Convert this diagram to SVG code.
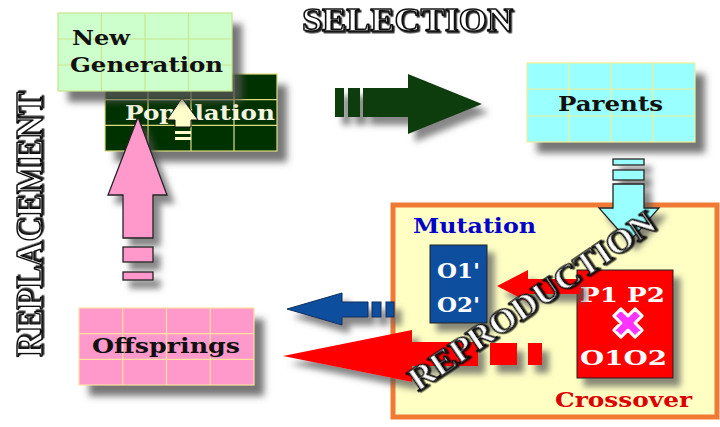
<svg xmlns="http://www.w3.org/2000/svg" width="720" height="427" viewBox="0 0 720 427">
<defs>
<filter id="sh" x="-20%" y="-20%" width="150%" height="170%"><feDropShadow dx="10" dy="11" stdDeviation="3.5" flood-color="#555" flood-opacity="0.8"/></filter>
<filter id="sha" x="-20%" y="-30%" width="150%" height="180%"><feDropShadow dx="7" dy="8" stdDeviation="3" flood-color="#555" flood-opacity="0.7"/></filter>
<filter id="tsh" x="-10%" y="-30%" width="120%" height="160%"><feDropShadow dx="1.6" dy="1.6" stdDeviation="0.3" flood-color="#000" flood-opacity="0.85"/></filter>
</defs>
<style>
.t{font-family:"DejaVu Serif","Liberation Serif",serif;font-weight:bold}
.grid{fill:none;stroke-width:1.2}
.deco{font-family:"Liberation Serif","DejaVu Serif",serif;font-weight:bold;fill:#fff;stroke:#111;stroke-width:1.5;stroke-linejoin:round;filter:url(#tsh)}
.ol{stroke:#222;stroke-width:1.3}
</style>
<rect width="720" height="427" fill="#fff"/>

<!-- Side labels -->
<text class="deco" x="302" y="31" font-size="34" textLength="211" lengthAdjust="spacingAndGlyphs">SELECTION</text>
<text class="deco" transform="translate(42,357) rotate(-90)" font-size="37" textLength="265" lengthAdjust="spacingAndGlyphs">REPLACEMENT</text>

<!-- Reproduction box -->
<g id="reproduction">
<rect x="393" y="205" width="324" height="212" fill="#ffffc4" stroke="#f07a34" stroke-width="5"/>
</g>

<!-- Population -->
<g id="population">
<rect x="105" y="74" width="172" height="77" fill="#003300" filter="url(#sh)"/>
<g class="grid" stroke="#dede80">
<rect x="105" y="74" width="172" height="77"/>
<path d="M148 74V151M191 74V151M234 74V151M105 99.7H277M105 125.3H277"/>
</g>
<text class="t" x="125" y="120" font-size="21" fill="#f5f5e0" textLength="150" lengthAdjust="spacingAndGlyphs">Population</text>
<polygon points="182,98 198,120 191,120 191,127 175,127 175,120 167,120" fill="#ffffcc" stroke="#111" stroke-width="1"/>
<rect x="175" y="131" width="16" height="3" fill="#ffffcc"/>
<rect x="175" y="137" width="16" height="3" fill="#ffffcc"/>
</g>

<!-- New Generation -->
<g id="newgen">
<rect x="58" y="13" width="174" height="78" fill="#ccffcc" filter="url(#sh)"/>
<g class="grid" stroke="#c8e68c">
<rect x="58" y="13" width="174" height="78"/>
<path d="M101.5 13V91M145 13V91M188.5 13V91M58 39H232M58 65H232"/>
</g>
<text class="t" x="72" y="45" font-size="21" fill="#111" textLength="58" lengthAdjust="spacingAndGlyphs">New</text>
<text class="t" x="70" y="72" font-size="21" fill="#111" textLength="153" lengthAdjust="spacingAndGlyphs">Generation</text>
</g>

<!-- Parents -->
<g id="parents">
<rect x="527" y="63" width="168" height="79" fill="#99ffff" filter="url(#sh)"/>
<g class="grid" stroke="#eeee99">
<rect x="527" y="63" width="168" height="79"/>
<path d="M569 63V142M611 63V142M653 63V142M527 89H695M527 116H695"/>
</g>
<text class="t" x="558" y="111" font-size="21" fill="#111" textLength="105" lengthAdjust="spacingAndGlyphs">Parents</text>
</g>

<!-- Offsprings -->
<g id="offsprings">
<rect x="79" y="308" width="175" height="77" fill="#ff99cc" filter="url(#sh)"/>
<g class="grid" stroke="#ffe0a0">
<rect x="79" y="308" width="175" height="77"/>
<path d="M122.75 308V385M166.5 308V385M210.25 308V385M79 333.7H254M79 359.3H254"/>
</g>
<text class="t" x="92" y="353" font-size="21" fill="#111" textLength="148" lengthAdjust="spacingAndGlyphs">Offsprings</text>
</g>

<!-- Mutation -->
<g id="mutation">
<text class="t" x="413" y="233" font-size="21" fill="#0000cc" textLength="123" lengthAdjust="spacingAndGlyphs">Mutation</text>
<rect x="430" y="245" width="57" height="78" fill="#0b4f9e" stroke="#222" stroke-width="1" filter="url(#sha)"/>
<text class="t" x="437" y="278" font-size="20" fill="#fff" textLength="43" lengthAdjust="spacingAndGlyphs">O1'</text>
<text class="t" x="437" y="312" font-size="20" fill="#fff" textLength="43" lengthAdjust="spacingAndGlyphs">O2'</text>
</g>

<!-- Crossover -->
<g id="crossover">
<rect x="577" y="270" width="96" height="108" fill="#ff0000" stroke="#222" stroke-width="1" filter="url(#sha)"/>
<text class="t" x="580" y="302" font-size="20" fill="#fff" textLength="85" lengthAdjust="spacingAndGlyphs">P1 P2</text>
<path d="M-5 -15h10v10h10v10h-10v10h-10v-10h-10v-10h10z" transform="translate(628,323) rotate(45)" fill="#ff33ff" stroke="#fff" stroke-width="3" stroke-linejoin="round"/>
<text class="t" x="580" y="365" font-size="20" fill="#fff" textLength="87" lengthAdjust="spacingAndGlyphs">O1O2</text>
<text class="t" x="555" y="407" font-size="21" fill="#dd0000" textLength="137" lengthAdjust="spacingAndGlyphs">Crossover</text>
</g>

<!-- Connectors -->
<g id="connectors">
<g fill="#0f3d0f" filter="url(#sha)">
<rect x="335" y="88" width="9" height="29"/>
<rect x="348" y="88" width="12" height="29"/>
<polygon points="363,88 408,88 408,74 482,104 408,134 408,117 363,117"/>
</g>
<g fill="#99ffff" class="ol" filter="url(#sha)">
<rect x="613" y="159" width="31" height="6"/>
<rect x="613" y="170" width="31" height="10"/>
<polygon points="613,184 644,184 644,208 659,208 629,242 599,208 613,208"/>
</g>
<polygon points="497,286 528,270 528,279 580,279 580,294 528,294 528,302" fill="#ff0000" filter="url(#sha)"/>
<g fill="#0b4f9e" stroke="#0a2e5e" stroke-width="1" filter="url(#sha)">
<polygon points="287,309 342,293 342,302 368,302 368,317 342,317 342,325"/>
<rect x="372" y="302" width="9" height="15"/>
<rect x="386" y="302" width="8" height="15"/>
</g>
<g fill="#ff0000" filter="url(#sha)">
<polygon points="283,356 412,330 412,342 478,342 478,366 412,366 412,382"/>
<rect x="490" y="343" width="27" height="22"/>
<rect x="528" y="343" width="14" height="22"/>
</g>
<g fill="#ff99cc" class="ol" filter="url(#sha)">
<polygon points="138,117 167,195 153,195 153,238 123,238 123,195 108,195"/>
<rect x="123" y="247" width="30" height="15"/>
<rect x="123" y="272" width="30" height="8"/>
</g>
</g>

<text class="deco" transform="translate(418,392) rotate(-34.3)" font-size="33" textLength="291" lengthAdjust="spacingAndGlyphs">REPRODUCTION</text>
</svg>
